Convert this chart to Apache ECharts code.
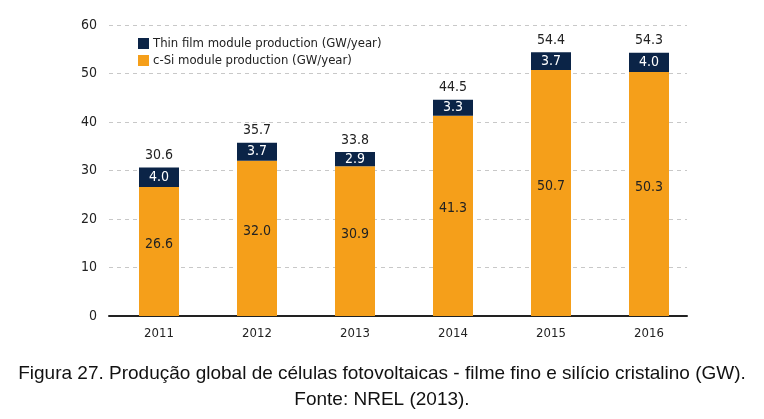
<!DOCTYPE html>
<html><head><meta charset="utf-8">
<script src="https://cdn.jsdelivr.net/npm/echarts@6/dist/echarts.min.js"></script>
<style>html,body{margin:0;padding:0;background:#fff}#c{width:764px;height:419px}</style>
</head><body><div id="c"></div>
<script>
var years = ['2011','2012','2013','2014','2015','2016'];
var cSi = [26.6, 32.0, 30.9, 41.3, 50.7, 50.3];
var thinFilm = [4.0, 3.7, 2.9, 3.3, 3.7, 4.0];
var totals = [30.6, 35.7, 33.8, 44.5, 54.4, 54.3];
var yTicks = [0, 10, 20, 30, 40, 50, 60];
var seriesNames = ['Thin film module production (GW/year)', 'c-Si module production (GW/year)'];
var captionLine1 = 'Figura 27. Produção global de células fotovoltaicas - filme fino e silício cristalino (GW).';
var captionLine2 = 'Fonte: NREL (2013).';

var NARROW = '"DejaVu Sans Condensed","Liberation Sans Narrow",sans-serif';
var chart = echarts.init(document.getElementById('c'), null, {renderer:'canvas'});
chart.setOption({
  animation: false,
  backgroundColor: '#fff',
  grid: [
    {left: 109, right: 77, top: 25, bottom: 103},
    {left: 110, right: 66, top: 25, bottom: 103}
  ],
  legend: {
    left: 133, top: 32, orient: 'vertical', itemGap: 4,
    itemWidth: 11, itemHeight: 11, icon: 'rect',
    data: seriesNames,
    textStyle: {fontFamily: NARROW, fontSize: 13, color: '#222', padding:[0,0,0,-1]}
  },
  xAxis: [
    {
      gridIndex: 0, type: 'value', min: 0, max: 1,
      axisLine: {show: true, onZero: false, lineStyle: {color: '#222', width: 2}, z: 10},
      axisTick: {show: false}, axisLabel: {show: false}, splitLine: {show: false}
    },
    {
      gridIndex: 1, type: 'category', data: years,
      axisLine: {show: false},
      axisTick: {show: false},
      axisLabel: {fontFamily: NARROW, fontSize: 13, color: '#222', margin: 11}
    }
  ],
  yAxis: [
    {
      gridIndex: 0, type: 'value', min: 0, max: 60, interval: 10,
      axisLine: {show: false}, axisTick: {show: false},
      axisLabel: {fontFamily: NARROW, fontSize: 14, color: '#222', margin: 12,
        formatter: function(v){ return yTicks.indexOf(v) >= 0 ? String(v) : ''; }},
      splitLine: {lineStyle: {color: '#c8c8c8', type: [4,4], width: 1}}
    },
    {
      gridIndex: 1, type: 'value', min: 0, max: 60, interval: 10, show: false,
      splitLine: {show: false}
    }
  ],
  series: [
    {
      name: seriesNames[1], type: 'bar', stack: 's', data: cSi, barWidth: 40,
      xAxisIndex: 1, yAxisIndex: 1,
      itemStyle: {color: '#f59f1a'},
      label: {show: true, position: 'inside', offset: [0,-7], formatter: function(p){return p.value.toFixed(1);},
        fontFamily: NARROW, fontSize: 14, color: '#222'}
    },
    {
      name: seriesNames[0], type: 'bar', stack: 's', data: thinFilm, barWidth: 40,
      xAxisIndex: 1, yAxisIndex: 1,
      itemStyle: {color: '#0b2447'},
      label: {show: true, position: 'inside', formatter: function(p){return p.value.toFixed(1);},
        fontFamily: NARROW, fontSize: 14, color: '#fff'}
    },
    {
      name: 'total', type: 'bar', stack: 's', data: totals.map(function(){return 0;}), barWidth: 40,
      xAxisIndex: 1, yAxisIndex: 1,
      itemStyle: {color: 'transparent'},
      label: {show: true, position: 'top', distance: 5, formatter: function(p){return totals[p.dataIndex].toFixed(1);},
        fontFamily: NARROW, fontSize: 14, color: '#222'}
    }
  ],
  graphic: [
    {type: 'text', left: 'center', top: 364, style: {text: captionLine1, font: '19px "Liberation Sans", Arial, sans-serif', fill: '#111'}},
    {type: 'text', left: 'center', top: 390, style: {text: captionLine2, font: '19px "Liberation Sans", Arial, sans-serif', fill: '#111'}}
  ]
});
</script></body></html>
